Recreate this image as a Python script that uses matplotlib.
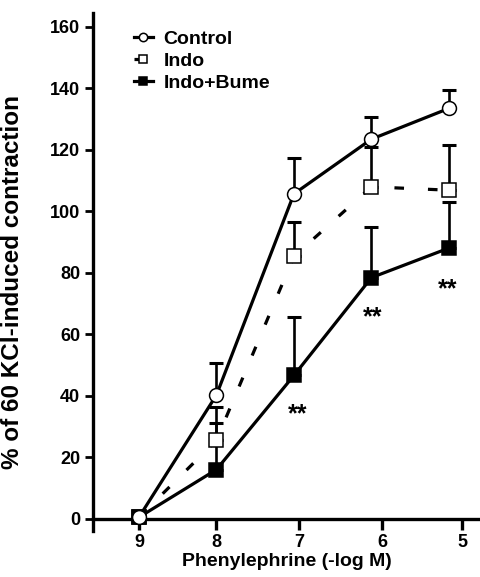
import numpy as np
import matplotlib
matplotlib.use('Agg')
from matplotlib import pyplot as plt

plt.rcParams['font.family'] = ['Liberation Sans', 'DejaVu Sans']
plt.rcParams['font.weight'] = 'bold'

# Data
conc = np.array([9, 8, 7, 6, 5])
control_mean = np.array([0.5, 40.2, 105.6, 123.4, 133.4])
control_sem = np.array([0, 10.4, 11.8, 7.2, 5.9])
indo_mean = np.array([0.5, 25.5, 85.3, 107.9, 106.8])
indo_sem = np.array([0, 5.5, 11.2, 13.0, 14.6])
bume_mean = np.array([0.5, 16.0, 46.6, 78.4, 88.0])
bume_sem = np.array([0, 20.4, 19.0, 16.4, 15.0])

tick_labels = ['9', '8', '7', '6', '5']
tick_pos = [9, 8, 6.93, 5.86, 4.83]
star_x = [6.95, 5.98, 5.02]
star_y = [34, 65.5, 74.5]

fig = plt.figure(figsize=(4.81, 5.77), dpi=100)
ax = fig.add_axes([0.193, 0.080, 0.807, 0.897])

# Error bars (upper only), drawn behind markers
for m, s in [(control_mean, control_sem), (indo_mean, indo_sem), (bume_mean, bume_sem)]:
    ax.errorbar(conc, m, yerr=[np.zeros_like(s), s], fmt='none', ecolor='black',
                elinewidth=1.9, capsize=4.8, capthick=2.2, zorder=2)

ax.plot(conc, control_mean, color='black', lw=2.3, marker='o', ms=10,
        mfc='white', mec='black', mew=1.1, label='Control', zorder=4)
ax.plot(conc, indo_mean, color='black', lw=2.3, ls=(0, (3, 7.5)), marker='s', ms=9.5,
        mfc='white', mec='black', mew=1.1, label='Indo', zorder=3)
ax.plot(conc, bume_mean, color='black', lw=2.3, marker='s', ms=9.5,
        mfc='black', mec='black', mew=1.1, label='Indo+Bume', zorder=3)

for x, y in zip(star_x, star_y):
    ax.text(x, y, '**', ha='center', va='center', fontsize=18, fontweight='bold')

ax.set_xlim(9.594, 4.587)
ax.set_ylim(-3.9, 164.3)
ax.set_xticks(tick_pos)
ax.set_xticklabels(tick_labels)
ax.set_yticks(np.arange(0, 161, 20))

ax.spines['top'].set_visible(False)
ax.spines['right'].set_visible(False)
ax.spines['bottom'].set_position(('data', 0))
ax.spines['left'].set_linewidth(2.4)
ax.spines['bottom'].set_linewidth(2.4)
ax.tick_params(axis='y', length=6, width=2, labelsize=13, pad=3)
ax.tick_params(axis='x', length=8, width=2.4, labelsize=13, pad=3)

ax.set_xlabel('Phenylephrine (-log M)', fontsize=14, fontweight='bold', labelpad=1)
ax.set_ylabel('% of 60 KCl-induced contraction', fontsize=17.5, fontweight='bold')
ax.yaxis.set_label_coords(-0.178, 0.48)

leg = ax.legend(loc='upper left', bbox_to_anchor=(0.105, 0.967), frameon=False, fontsize=14,
                markerscale=0.6, handlelength=1.0, handletextpad=0.55, labelspacing=0.22,
                borderaxespad=0, borderpad=0)

fig.savefig('out.png', dpi=100)
